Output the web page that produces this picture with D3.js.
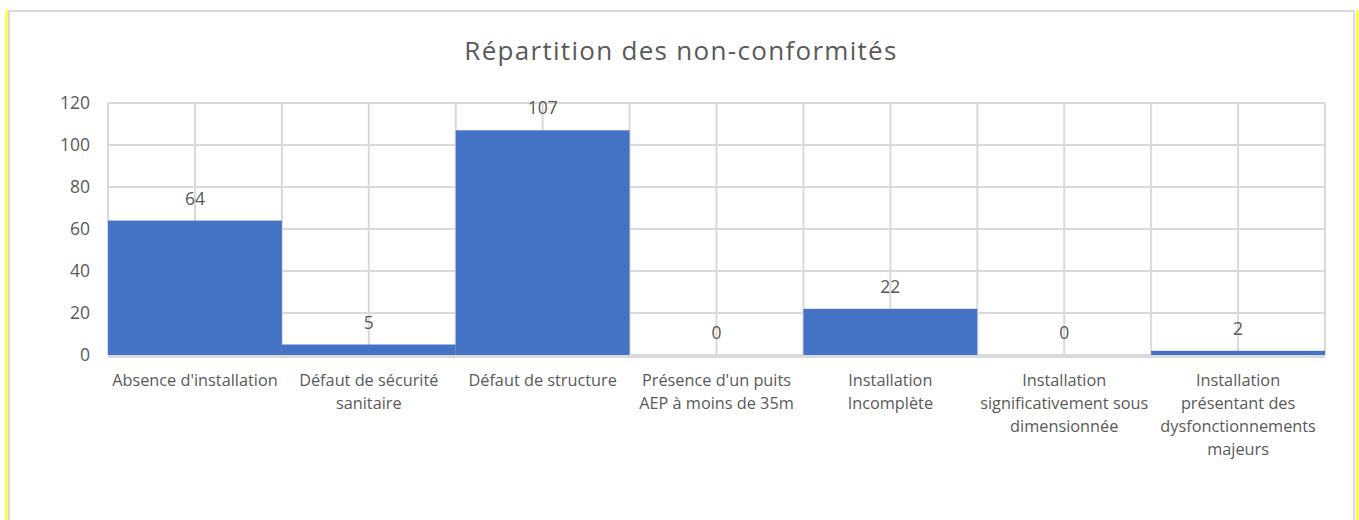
<!DOCTYPE html>
<html><head><meta charset="utf-8">
<script src="https://cdn.jsdelivr.net/npm/d3@7"></script>
<style>body{margin:0;background:#fff}svg{display:block}</style>
</head><body>
<script>
const title = "Répartition des non-conformités";
const categories = [
  "Absence d'installation",
  "Défaut de sécurité\nsanitaire",
  "Défaut de structure",
  "Présence d'un puits\nAEP à moins de 35m",
  "Installation\nIncomplète",
  "Installation\nsignificativement sous\ndimensionnée",
  "Installation\nprésentant des\ndysfonctionnements\nmajeurs"
];
const values = [64, 5, 107, 0, 22, 0, 2];
const yTicks = [0, 20, 40, 60, 80, 100, 120];

const W = 1359, H = 520;
const svg = d3.select("body").append("svg").attr("width", W).attr("height", H);
const font = "'Open Sans', 'Noto Sans', sans-serif";
const txt = "#595959", grid = "#d9d9d9";

// outer frame
svg.append("line").attr("x1", 6.5).attr("x2", 6.5).attr("y1", 10).attr("y2", H).attr("stroke", "#ffff00").attr("stroke-width", 2);
svg.append("line").attr("x1", 1357.5).attr("x2", 1357.5).attr("y1", 10).attr("y2", H).attr("stroke", "#ffff00").attr("stroke-width", 2);
svg.append("rect").attr("x", 9).attr("y", 11).attr("width", 1345).attr("height", H).attr("fill", "none").attr("stroke", grid).attr("stroke-width", 2);

const x0 = 108, x1 = 1325, y0 = 355, y1 = 103;
const x = d3.scaleBand().domain(categories).range([x0, x1]).padding(0);
const y = d3.scaleLinear().domain([0, 120]).range([y0, y1]);

// horizontal gridlines
svg.append("g").selectAll("line").data(yTicks).join("line")
  .attr("x1", x0).attr("x2", x1).attr("y1", d => y(d)).attr("y2", d => y(d))
  .attr("stroke", grid).attr("stroke-width", 2);
// vertical gridlines at boundaries and centers
const vlines = [];
categories.forEach(c => { vlines.push(x(c)); vlines.push(x(c) + x.bandwidth() / 2); });
vlines.push(x1);
svg.append("g").selectAll("line").data(vlines).join("line")
  .attr("x1", d => d).attr("x2", d => d).attr("y1", y1).attr("y2", y0)
  .attr("stroke", grid).attr("stroke-width", 2);

// bars
svg.append("g").selectAll("rect").data(values).join("rect")
  .attr("x", (d, i) => x(categories[i])).attr("width", x.bandwidth())
  .attr("y", d => y(d)).attr("height", d => y0 - y(d))
  .attr("fill", "#4472c4");

// baseline
svg.append("line").attr("x1", x0).attr("x2", x1).attr("y1", y0 + 1.5).attr("y2", y0 + 1.5)
  .attr("stroke", grid).attr("stroke-width", 3);

// value labels
svg.append("g").selectAll("text").data(values).join("text")
  .attr("x", (d, i) => x(categories[i]) + x.bandwidth() / 2)
  .attr("y", d => y(d) - 16)
  .attr("text-anchor", "middle").attr("font-family", font).attr("font-size", 17.5).attr("fill", txt)
  .text(d => d);

// y axis labels
const yAxis = d3.axisLeft(y).tickValues(yTicks).tickSize(0).tickPadding(0);
const ga = svg.append("g").attr("transform", `translate(90,0)`).call(yAxis);
ga.select(".domain").remove();
ga.selectAll("text").attr("font-family", font).attr("font-size", 17.5).attr("fill", txt).attr("dy", "0.33em");

// x labels
const xl = svg.append("g").selectAll("text").data(categories).join("text")
  .attr("text-anchor", "middle").attr("font-family", font).attr("font-size", 16.3).attr("fill", txt);
xl.each(function (c) {
  const t = d3.select(this);
  c.split("\n").forEach((line, j) => {
    t.append("tspan").attr("x", x(c) + x.bandwidth() / 2).attr("y", 386 + j * 23).text(line);
  });
});

// title
svg.append("text").attr("x", 681).attr("y", 59.5).attr("text-anchor", "middle")
  .attr("font-family", font).attr("font-size", 26).attr("letter-spacing", 1.3).attr("fill", txt).text(title);
</script>
</body></html>
